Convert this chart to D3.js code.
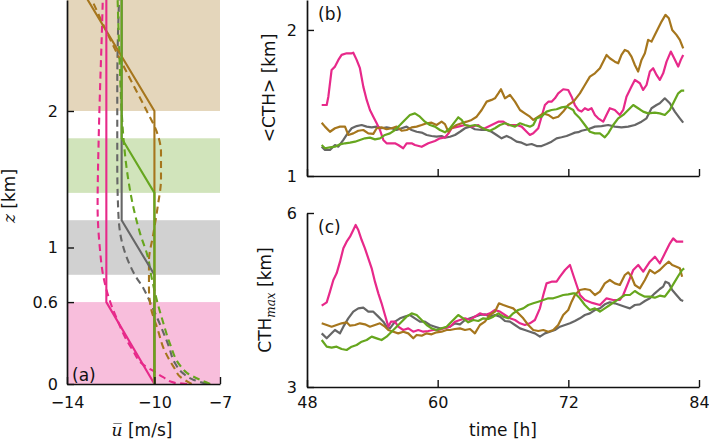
<!DOCTYPE html>
<html>
<head>
<meta charset="utf-8">
<script src="https://cdn.jsdelivr.net/npm/d3@7"></script>
<style>
  body { margin: 0; background: #fff; }
  text { font-family: "DejaVu Sans", sans-serif; fill: #111; }
</style>
</head>
<body>
<svg id="fig" width="709" height="440"></svg>
<script>
// ---- panel (a): wind profiles, [z km, u m/s] ----
const bandRanges = [[0, 0.6], [0.8, 1.2], [1.4, 1.8], [2.0, 3.0]];
const profileNames = ["gray", "brown", "pink", "green"];

const solidProfiles = {
    pink:  [[0, -10], [0.6, -12.2], [3, -12.2]],
    gray:  [[0, -10], [0.8, -10], [1.2, -11.5], [3, -11.5]],
    green: [[0, -10], [1.4, -10], [1.8, -11.5], [3, -11.5]],
    brown: [[0, -10], [2.0, -10], [3, -13.75]]
};
const dashedProfiles = {
    pink:  [[0, -8.5], [0.01, -9.1], [0.05, -9.6], [0.09, -10.0], [0.14, -10.5], [0.25, -11.0], [0.33, -11.3],
            [0.47, -11.7], [0.59, -12.0], [0.8, -12.35], [1.0, -12.5], [1.3, -12.6], [1.8, -12.55],
            [2.1, -12.5], [2.6, -12.4], [2.9, -12.35]],
    gray:  [[0, -7.6], [0.03, -8.2], [0.08, -8.7], [0.15, -9.05], [0.28, -9.35], [0.42, -9.7], [0.6, -10.2],
            [0.7, -10.5], [0.8, -10.9], [0.9, -11.2], [1.05, -11.5], [1.25, -11.65], [1.6, -11.7],
            [2.2, -11.7], [2.9, -11.6]],
    green: [[0, -7.45], [0.03, -7.9], [0.08, -8.5], [0.13, -8.8], [0.3, -9.3], [0.45, -9.6], [0.62, -9.9],
            [0.78, -10.13], [0.93, -10.3], [1.1, -10.65], [1.25, -10.9], [1.5, -11.2], [1.77, -11.4],
            [2.0, -11.5], [2.4, -11.6], [2.9, -11.7]],
    brown: [[0, -8.3], [0.05, -8.8], [0.12, -9.1], [0.25, -9.55], [0.4, -9.85], [0.55, -10.15], [0.7, -10.25],
            [0.9, -10.25], [1.1, -10.05], [1.3, -9.85], [1.5, -9.7], [1.7, -9.7], [1.85, -9.9],
            [2.0, -10.35], [2.2, -11.0], [2.5, -11.95], [2.9, -13.1]]
};
const uTicks = [-14, -10, -7];
const uTickLabels = ["\u221214", "\u221210", "\u22127"];
const zTicks = [0, 0.6, 1, 2];
const zTickLabels = ["0", "0.6", "1", "2"];

// ---- panels (b) and (c): time series, [time h, km] ----
const timeTicks = [48, 60, 72, 84];
const cthTicks = [1, 2];
const cthMaxTicks = [3, 6];

const cthMean = {
    pink: [[49.35,1.486],[49.81,1.486],[49.96,1.543],[50.26,1.726],[50.57,1.749],[50.88,1.795],[51.18,1.829],[51.64,1.84],[52.1,1.84],[52.25,1.844],[52.56,1.795],[52.86,1.738],[53.17,1.612],[53.48,1.521],[53.78,1.452],[54.09,1.406],[54.4,1.361],[54.7,1.315],[55.01,1.247],[55.31,1.224],[56.08,1.224],[56.38,1.212],[56.84,1.19],[57.15,1.224],[57.61,1.224],[57.91,1.212],[58.53,1.2],[59.14,1.224],[59.75,1.24],[60.21,1.258],[60.67,1.264],[61.0,1.292],[61.28,1.327],[61.89,1.338],[62.51,1.349],[63.12,1.338],[63.73,1.349],[64.04,1.327],[64.34,1.327],[64.95,1.349],[65.57,1.372],[66.03,1.372],[66.48,1.349],[67.25,1.349],[67.71,1.338],[68.17,1.303],[68.47,1.281],[68.78,1.292],[69.24,1.327],[69.54,1.406],[69.85,1.486],[70.16,1.509],[70.46,1.509],[70.77,1.532],[71.07,1.566],[71.53,1.594],[71.99,1.589],[72.3,1.543],[72.6,1.486],[72.91,1.452],[73.21,1.441],[73.52,1.464],[73.82,1.452],[74.13,1.464],[74.44,1.418],[74.74,1.395],[75.2,1.372],[75.5,1.418],[75.81,1.464],[76.27,1.452],[76.73,1.418],[77.04,1.452],[77.34,1.543],[77.8,1.612],[78.11,1.658],[78.57,1.635],[78.87,1.589],[79.18,1.623],[79.49,1.715],[79.79,1.738],[80.1,1.692],[80.4,1.658],[80.71,1.703],[81.02,1.783],[81.41,1.852],[81.72,1.806],[82.09,1.749],[82.33,1.795],[82.55,1.829]],
    gray: [[49.35,1.201],[49.65,1.178],[50.11,1.178],[50.57,1.212],[50.88,1.201],[51.34,1.247],[51.64,1.281],[52.1,1.327],[52.56,1.342],[53.02,1.349],[53.48,1.338],[53.94,1.333],[54.4,1.338],[54.85,1.327],[55.31,1.333],[55.77,1.327],[56.23,1.315],[56.69,1.327],[57.15,1.338],[57.61,1.315],[58.07,1.303],[58.53,1.297],[58.99,1.281],[59.44,1.274],[59.9,1.269],[60.36,1.274],[60.67,1.262],[61.13,1.269],[61.59,1.281],[62.05,1.303],[62.51,1.327],[62.97,1.338],[63.42,1.32],[64.04,1.315],[64.5,1.315],[64.95,1.303],[65.41,1.281],[65.87,1.258],[66.33,1.274],[66.79,1.258],[67.25,1.235],[67.71,1.228],[68.17,1.212],[68.63,1.219],[69.09,1.205],[69.54,1.205],[70.0,1.219],[70.46,1.235],[70.92,1.258],[71.38,1.265],[71.84,1.274],[72.3,1.288],[72.6,1.297],[72.91,1.3],[73.21,1.31],[73.82,1.32],[74.44,1.338],[75.05,1.342],[75.66,1.349],[76.27,1.338],[76.88,1.333],[77.5,1.338],[78.11,1.349],[78.72,1.372],[79.18,1.395],[79.64,1.464],[80.1,1.486],[80.4,1.498],[80.86,1.532],[81.32,1.498],[81.78,1.441],[82.24,1.395],[82.55,1.365]],
    brown: [[49.35,1.365],[49.65,1.338],[50.11,1.303],[50.57,1.327],[51.03,1.338],[51.49,1.338],[51.79,1.281],[52.25,1.292],[52.71,1.31],[53.17,1.315],[53.63,1.292],[54.09,1.288],[54.4,1.327],[54.85,1.333],[55.31,1.32],[55.77,1.327],[56.23,1.338],[56.69,1.31],[57.15,1.315],[57.61,1.333],[58.07,1.338],[58.53,1.349],[58.99,1.361],[59.44,1.365],[59.9,1.349],[60.36,1.372],[60.67,1.355],[60.98,1.303],[61.28,1.327],[61.74,1.349],[62.2,1.361],[62.66,1.372],[63.12,1.384],[63.58,1.406],[64.04,1.452],[64.5,1.509],[64.95,1.521],[65.26,1.532],[65.57,1.566],[65.81,1.594],[66.18,1.532],[66.64,1.555],[67.1,1.509],[67.56,1.452],[68.01,1.429],[68.47,1.406],[68.78,1.384],[69.24,1.406],[69.7,1.429],[70.16,1.418],[70.62,1.395],[71.07,1.406],[71.53,1.441],[71.99,1.486],[72.45,1.509],[72.6,1.521],[73.06,1.566],[73.52,1.623],[73.98,1.68],[74.44,1.703],[74.9,1.738],[75.2,1.783],[75.51,1.829],[75.81,1.806],[76.27,1.783],[76.58,1.772],[76.88,1.829],[77.19,1.863],[77.5,1.852],[77.8,1.817],[78.11,1.76],[78.41,1.715],[78.72,1.795],[79.03,1.84],[79.33,1.932],[79.64,1.92],[79.94,1.966],[80.25,2.011],[80.56,2.057],[80.92,2.103],[81.23,2.08],[81.54,2.0],[81.93,1.966],[82.24,1.932],[82.55,1.874]],
    green: [[49.35,1.212],[49.65,1.19],[50.11,1.196],[50.57,1.201],[51.03,1.217],[51.49,1.224],[51.95,1.228],[52.41,1.235],[52.86,1.247],[53.32,1.258],[53.78,1.263],[54.24,1.251],[54.7,1.258],[55.16,1.281],[55.62,1.292],[56.08,1.315],[56.54,1.349],[56.99,1.384],[57.45,1.418],[57.91,1.429],[58.37,1.406],[58.83,1.372],[59.29,1.349],[59.75,1.338],[60.21,1.315],[60.67,1.299],[61.13,1.327],[61.59,1.372],[61.89,1.402],[62.2,1.384],[62.51,1.349],[62.97,1.342],[63.42,1.349],[63.88,1.338],[64.34,1.32],[64.8,1.31],[65.26,1.327],[65.72,1.349],[66.18,1.361],[66.64,1.349],[67.1,1.338],[67.56,1.361],[68.01,1.349],[68.47,1.338],[68.78,1.349],[69.09,1.395],[69.54,1.406],[70.0,1.441],[70.46,1.452],[70.92,1.457],[71.38,1.47],[71.84,1.475],[72.15,1.464],[72.45,1.452],[72.6,1.429],[73.06,1.395],[73.52,1.349],[73.98,1.303],[74.44,1.292],[74.9,1.292],[75.35,1.265],[75.66,1.292],[76.12,1.349],[76.58,1.395],[77.04,1.418],[77.5,1.452],[77.96,1.486],[78.41,1.464],[78.87,1.441],[79.33,1.429],[79.94,1.434],[80.4,1.429],[80.86,1.418],[81.32,1.452],[81.78,1.521],[82.09,1.566],[82.39,1.584],[82.64,1.584]]
};

const cthMax = {
    pink: [[49.35,4.402],[49.81,4.46],[50.11,4.644],[50.42,4.845],[50.72,4.96],[51.03,5.161],[51.34,5.391],[51.64,5.506],[51.95,5.592],[52.25,5.707],[52.47,5.793],[52.71,5.707],[53.02,5.534],[53.32,5.391],[53.63,5.218],[53.94,5.046],[54.24,4.816],[54.55,4.615],[54.85,4.443],[55.16,4.241],[55.47,4.04],[55.71,4.126],[56.08,4.126],[56.38,4.04],[56.84,3.983],[57.3,4.011],[57.76,3.954],[58.22,3.983],[58.68,3.954],[59.14,3.966],[59.6,3.983],[60.06,3.983],[60.52,4.011],[61.13,4.04],[61.59,4.126],[62.05,4.155],[62.51,4.184],[62.97,4.155],[63.42,4.213],[63.88,4.27],[64.34,4.241],[64.8,4.27],[65.26,4.328],[65.72,4.299],[66.18,4.241],[66.64,4.184],[67.1,4.155],[67.56,4.098],[68.01,4.069],[68.47,4.098],[68.93,4.155],[69.39,4.356],[69.7,4.586],[70.0,4.787],[70.46,4.816],[70.92,4.816],[71.23,4.902],[71.69,5.017],[72.15,5.103],[72.45,4.931],[72.76,4.759],[73.07,4.586],[73.52,4.5],[74.2,4.45],[74.9,4.414],[75.51,4.529],[76.12,4.5],[76.74,4.5],[77.04,4.586],[77.5,4.8],[77.96,5.017],[78.42,5.103],[78.88,4.988],[79.49,5.16],[79.95,5.247],[80.41,5.132],[80.87,5.305],[81.33,5.477],[81.63,5.563],[81.94,5.506],[82.55,5.506]],
    gray: [[49.35,3.925],[49.81,3.839],[50.26,3.925],[50.57,3.983],[51.03,3.925],[51.34,4.04],[51.79,4.184],[52.25,4.299],[52.71,4.356],[53.17,4.368],[53.63,4.299],[54.09,4.299],[54.55,4.213],[55.01,4.126],[55.31,4.04],[55.62,4.011],[56.08,4.126],[56.54,4.184],[56.99,4.213],[57.45,4.241],[57.91,4.184],[58.37,4.126],[58.83,4.126],[59.29,4.069],[59.75,4.04],[60.21,4.011],[60.67,4.017],[61.13,4.04],[61.59,4.098],[62.05,4.081],[62.51,4.155],[62.97,4.184],[63.42,4.213],[63.88,4.241],[64.34,4.253],[64.8,4.213],[65.26,4.241],[65.72,4.213],[66.18,4.138],[66.64,4.126],[67.1,4.069],[67.56,4.011],[68.01,3.983],[68.47,3.954],[68.93,3.925],[69.39,3.868],[69.85,3.925],[70.31,3.954],[70.77,3.983],[71.23,4.04],[71.69,4.069],[72.15,4.098],[72.6,4.138],[73.06,4.184],[73.52,4.241],[73.98,4.27],[74.44,4.328],[74.9,4.356],[75.35,4.425],[75.81,4.46],[76.27,4.443],[76.73,4.414],[77.19,4.385],[77.65,4.356],[78.11,4.414],[78.57,4.425],[79.03,4.483],[79.49,4.529],[79.94,4.615],[80.4,4.69],[80.71,4.73],[80.92,4.816],[81.23,4.787],[81.54,4.672],[81.93,4.586],[82.33,4.5],[82.55,4.483]],
    brown: [[49.35,4.098],[49.81,4.069],[50.26,4.04],[50.72,4.069],[51.18,4.098],[51.64,4.115],[51.95,4.057],[52.41,4.069],[52.86,4.098],[53.32,4.081],[53.78,4.04],[54.24,4.069],[54.7,4.098],[55.16,4.04],[55.47,3.983],[55.93,3.954],[56.38,3.925],[56.84,3.954],[57.3,3.925],[57.76,3.839],[58.07,3.897],[58.53,3.885],[58.99,3.925],[59.44,3.908],[59.9,3.943],[60.36,3.954],[60.82,3.983],[61.13,3.983],[61.59,4.0],[62.05,4.011],[62.51,3.983],[62.97,4.0],[63.42,3.925],[63.88,4.069],[64.34,4.126],[64.8,4.241],[65.26,4.299],[65.63,4.443],[66.03,4.414],[66.48,4.385],[66.94,4.356],[67.4,4.27],[67.86,4.184],[68.32,4.069],[68.78,3.983],[69.24,3.966],[69.7,3.983],[70.16,3.954],[70.62,3.983],[71.07,4.069],[71.53,4.241],[71.99,4.328],[72.3,4.471],[72.6,4.586],[73.06,4.672],[73.52,4.69],[73.98,4.672],[74.44,4.586],[74.9,4.644],[75.35,4.787],[75.81,4.845],[76.27,4.787],[76.73,4.759],[77.19,4.931],[77.5,4.977],[77.8,4.902],[78.11,4.759],[78.57,4.701],[79.03,4.845],[79.49,5.017],[79.94,4.96],[80.4,5.017],[80.86,5.103],[81.23,5.161],[81.54,5.103],[81.93,5.074],[82.24,5.046],[82.45,4.902]],
    green: [[49.35,3.81],[49.81,3.695],[50.26,3.678],[50.72,3.695],[51.18,3.655],[51.64,3.638],[52.1,3.695],[52.56,3.724],[53.02,3.781],[53.48,3.81],[53.94,3.868],[54.4,3.839],[54.85,3.81],[55.31,3.868],[55.77,3.954],[56.23,4.04],[56.69,4.126],[57.15,4.213],[57.61,4.27],[58.07,4.241],[58.53,4.155],[58.99,4.069],[59.44,4.011],[59.9,3.983],[60.36,4.011],[60.82,4.04],[61.13,4.098],[61.59,4.184],[61.89,4.241],[62.35,4.184],[62.81,4.115],[63.27,4.155],[63.73,4.138],[64.19,4.184],[64.65,4.172],[65.11,4.213],[65.57,4.27],[66.03,4.213],[66.48,4.184],[66.94,4.27],[67.4,4.328],[67.86,4.356],[68.32,4.414],[68.78,4.443],[69.24,4.471],[69.7,4.5],[70.16,4.529],[70.62,4.529],[71.07,4.557],[71.53,4.586],[71.99,4.598],[72.45,4.615],[72.6,4.615],[73.06,4.529],[73.52,4.414],[73.98,4.328],[74.44,4.356],[74.9,4.299],[75.35,4.356],[75.81,4.414],[76.27,4.471],[76.73,4.529],[77.19,4.586],[77.65,4.586],[78.11,4.655],[78.57,4.598],[79.03,4.557],[79.49,4.557],[79.94,4.54],[80.4,4.575],[80.86,4.557],[81.32,4.672],[81.78,4.816],[82.15,4.931],[82.45,5.017],[82.64,5.046]]
};

const colours = { pink: "#e7298a", gray: "#666666", brown: "#a6761d", green: "#66a61e" };
const bandColours = ["pink", "gray", "green", "brown"];

const tickFont = 16;
const labelFont = 17;

var svg = d3.select("#fig");

// scales
var uScale = d3.scaleLinear().domain([-14, -7]).range([67, 220]);
var zScale = d3.scaleLinear().domain([0, 2.813]).range([384, 0]);
var tScale = d3.scaleLinear().domain([48, 84]).range([307, 699]);
var bScale = d3.scaleLinear().domain([1, 2.205]).range([176, 0]);
var cScale = d3.scaleLinear().domain([3, 6]).range([387, 213]);

var defs = svg.append("defs");
var addClip = function(id, x, y, w, h) {
    defs.append("clipPath").attr("id", id)
        .append("rect").attr("x", x).attr("y", y).attr("width", w).attr("height", h);
};
addClip("clipA", 67, 0, 153, 384);
addClip("clipB", 307, 0, 392, 176);
addClip("clipC", 307, 213, 392, 174);

// ---- panel (a) ----
var gA = svg.append("g").attr("clip-path", "url(#clipA)");
bandRanges.forEach((r, i) => {
    gA.append("rect")
        .attr("x", uScale(-14))
        .attr("width", uScale(-7) - uScale(-14))
        .attr("y", zScale(r[1]))
        .attr("height", zScale(r[0]) - zScale(r[1]))
        .attr("fill", colours[bandColours[i]])
        .attr("fill-opacity", 0.3);
});

var profileLine = d3.line().x(d => uScale(d[1])).y(d => zScale(d[0]));
var smoothLine = d3.line().x(d => uScale(d[1])).y(d => zScale(d[0])).curve(d3.curveMonotoneY);

profileNames.forEach(name => {
    gA.append("path")
        .attr("d", smoothLine(dashedProfiles[name]))
        .attr("fill", "none")
        .attr("stroke", colours[name])
        .attr("stroke-width", 2.1)
        .attr("stroke-dasharray", "7,4.5");
});
profileNames.forEach(name => {
    gA.append("path")
        .attr("d", profileLine(solidProfiles[name]))
        .attr("fill", "none")
        .attr("stroke", colours[name])
        .attr("stroke-width", 2.1);
});

var styleAxis = function(g) {
    g.select(".domain").attr("stroke", "#111").attr("stroke-width", 1.7);
    g.selectAll(".tick line").attr("stroke", "#111").attr("stroke-width", 1.4);
    g.selectAll("text").attr("font-size", tickFont).attr("font-family", "DejaVu Sans").attr("fill", "#111");
};

svg.append("g").attr("transform", "translate(0,384)")
    .call(d3.axisBottom(uScale).tickValues(uTicks).tickFormat((d, i) => uTickLabels[i])
        .tickSizeInner(-7).tickSizeOuter(0).tickPadding(13))
    .call(styleAxis);
svg.append("g").attr("transform", "translate(67,0)")
    .call(d3.axisLeft(zScale).tickValues(zTicks).tickFormat((d, i) => zTickLabels[i])
        .tickSizeInner(-7).tickSizeOuter(0).tickPadding(9))
    .call(styleAxis);

// ---- panels (b), (c) ----
var drawSeries = function(clipId, yScale, series) {
    var g = svg.append("g").attr("clip-path", "url(#" + clipId + ")");
    var line = d3.line().x(d => tScale(d[0])).y(d => yScale(d[1]));
    ["gray", "pink", "brown", "green"].forEach(name => {
        g.append("path")
            .attr("d", line(series[name]))
            .attr("fill", "none")
            .attr("stroke", colours[name])
            .attr("stroke-width", 2.2)
            .attr("stroke-linejoin", "round");
    });
};
drawSeries("clipB", bScale, cthMean);
drawSeries("clipC", cScale, cthMax);

svg.append("g").attr("transform", "translate(0,176)")
    .call(d3.axisBottom(tScale).tickValues(timeTicks).tickFormat("")
        .tickSizeInner(-7).tickSizeOuter(0))
    .call(styleAxis);
svg.append("g").attr("transform", "translate(307,0)")
    .call(d3.axisLeft(bScale).tickValues(cthTicks).tickFormat(d3.format("d"))
        .tickSizeInner(-7).tickSizeOuter(0).tickPadding(10))
    .call(styleAxis);
svg.append("g").attr("transform", "translate(0,387)")
    .call(d3.axisBottom(tScale).tickValues(timeTicks).tickFormat(d3.format("d"))
        .tickSizeInner(-7).tickSizeOuter(0).tickPadding(10))
    .call(styleAxis);
svg.append("g").attr("transform", "translate(307,0)")
    .call(d3.axisLeft(cScale).tickValues(cthMaxTicks).tickFormat(d3.format("d"))
        .tickSizeInner(-7).tickSizeOuter(0).tickPadding(10))
    .call(styleAxis);

// ---- labels ----
var label = function(x, y, rot) {
    var t = svg.append("text").attr("text-anchor", "middle").attr("font-size", labelFont)
        .attr("transform", "translate(" + x + "," + y + ")" + (rot ? " rotate(-90)" : ""));
    return t;
};
var zl = label(15, 196, true);
zl.append("tspan").attr("font-style", "italic").attr("font-family", "DejaVu Serif").text("z");
zl.append("tspan").text(" [km]");

var ul = label(142, 436, false);
ul.append("tspan").attr("font-style", "italic").attr("font-family", "DejaVu Serif").text("u\u0305");
ul.append("tspan").text(" [m/s]");

label(503, 436, false).text("time [h]");
label(275, 88, true).text("<CTH> [km]");

var cl = label(271, 300, true);
cl.append("tspan").text("CTH");
cl.append("tspan").attr("font-style", "italic").attr("font-family", "DejaVu Serif")
    .attr("font-size", 12).attr("dy", 4).text("max");
cl.append("tspan").attr("dy", -4).text(" [km]");

svg.append("text").attr("x", 72).attr("y", 381).attr("font-size", labelFont).text("(a)");
svg.append("text").attr("x", 318).attr("y", 20).attr("font-size", labelFont).text("(b)");
svg.append("text").attr("x", 318).attr("y", 233).attr("font-size", labelFont).text("(c)");
</script>
</body>
</html>
